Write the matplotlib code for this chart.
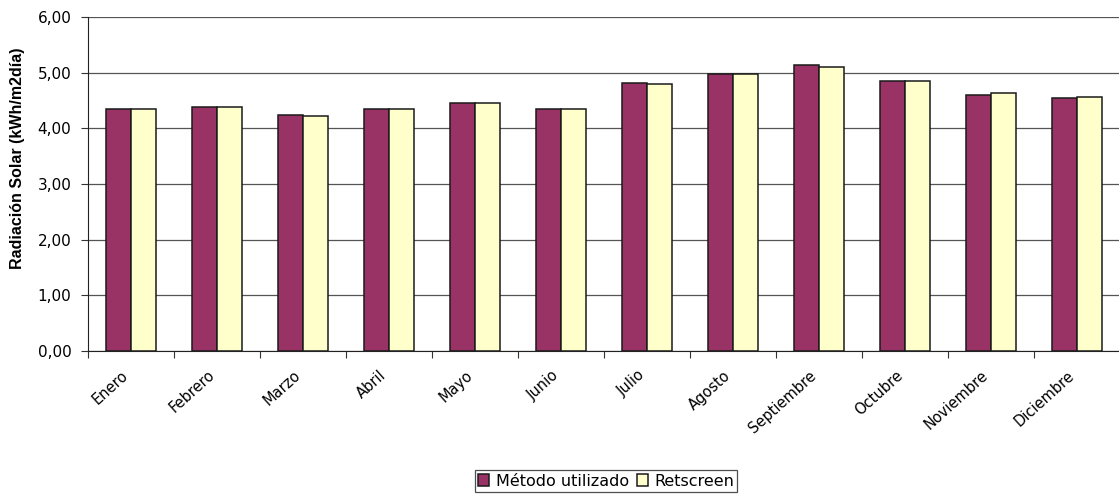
import matplotlib
matplotlib.use("Agg")
import matplotlib.pyplot as plt
import numpy as np

meses = ["Enero", "Febrero", "Marzo", "Abril", "Mayo", "Junio", "Julio",
         "Agosto", "Septiembre", "Octubre", "Noviembre", "Diciembre"]
metodo = [4.34, 4.39, 4.24, 4.34, 4.45, 4.34, 4.82, 4.98, 5.13, 4.85, 4.60, 4.54]
retscreen = [4.34, 4.39, 4.23, 4.34, 4.45, 4.34, 4.80, 4.98, 5.11, 4.85, 4.63, 4.57]
yticks = [0, 1, 2, 3, 4, 5, 6]

plt.rcParams["font.family"] = ["DejaVu Sans"]

fig = plt.figure(figsize=(11.19, 5.0), dpi=100)
ax = fig.add_axes([88 / 1119, 1 - 351 / 500, 1032 / 1119, 334 / 500])

x = np.arange(len(meses))
w = 0.29
ax.bar(x - w / 2, metodo, w, color="#993366", edgecolor="#1a1a1a", linewidth=1.1,
       label="Método utilizado", zorder=3)
ax.bar(x + w / 2, retscreen, w, color="#FFFFCC", edgecolor="#1a1a1a", linewidth=1.1,
       label="Retscreen", zorder=3)

ax.set_xlim(-0.5, len(meses) - 0.5)
ax.set_ylim(0, 6)
ax.set_yticks(yticks)
ax.set_yticklabels([f"{v:.2f}".replace(".", ",") for v in yticks], fontsize=11)
ax.yaxis.grid(True, color="#555555", linewidth=0.9, zorder=0)
ax.set_axisbelow(True)

# category ticks at boundaries, labels at centers
ax.set_xticks(np.arange(len(meses) + 1) - 0.5)
ax.set_xticklabels([])
ax.tick_params(axis="x", length=5, direction="out", color="#333333")
ax.tick_params(axis="y", length=5, direction="out", color="#333333", pad=7)
for i, m in enumerate(meses):
    ax.annotate(m, xy=(i, 0), xycoords=("data", "axes fraction"),
                xytext=(-7, -12), textcoords="offset points",
                rotation=42, ha="right", va="top", rotation_mode="anchor",
                fontsize=10.5)

for s in ["top", "right"]:
    ax.spines[s].set_visible(False)
ax.spines["left"].set_color("#222222")
ax.spines["bottom"].set_color("#222222")

ax.set_ylabel("Radiación Solar (kWh/m2día)", fontsize=11.5, fontweight="bold",
              family="Liberation Sans")
ax.yaxis.set_label_coords(-63 / 1032, 0.578)

leg = fig.legend(loc="center", bbox_to_anchor=(606 / 1119, 1 - 481 / 500), ncol=2,
                 fontsize=11.5, frameon=True, fancybox=False, edgecolor="#222222",
                 handlelength=0.7, handleheight=0.7, handletextpad=0.4,
                 columnspacing=0.5, borderpad=0.2, borderaxespad=0)
leg.get_frame().set_linewidth(0.9)

fig.savefig("out.png", dpi=100)
